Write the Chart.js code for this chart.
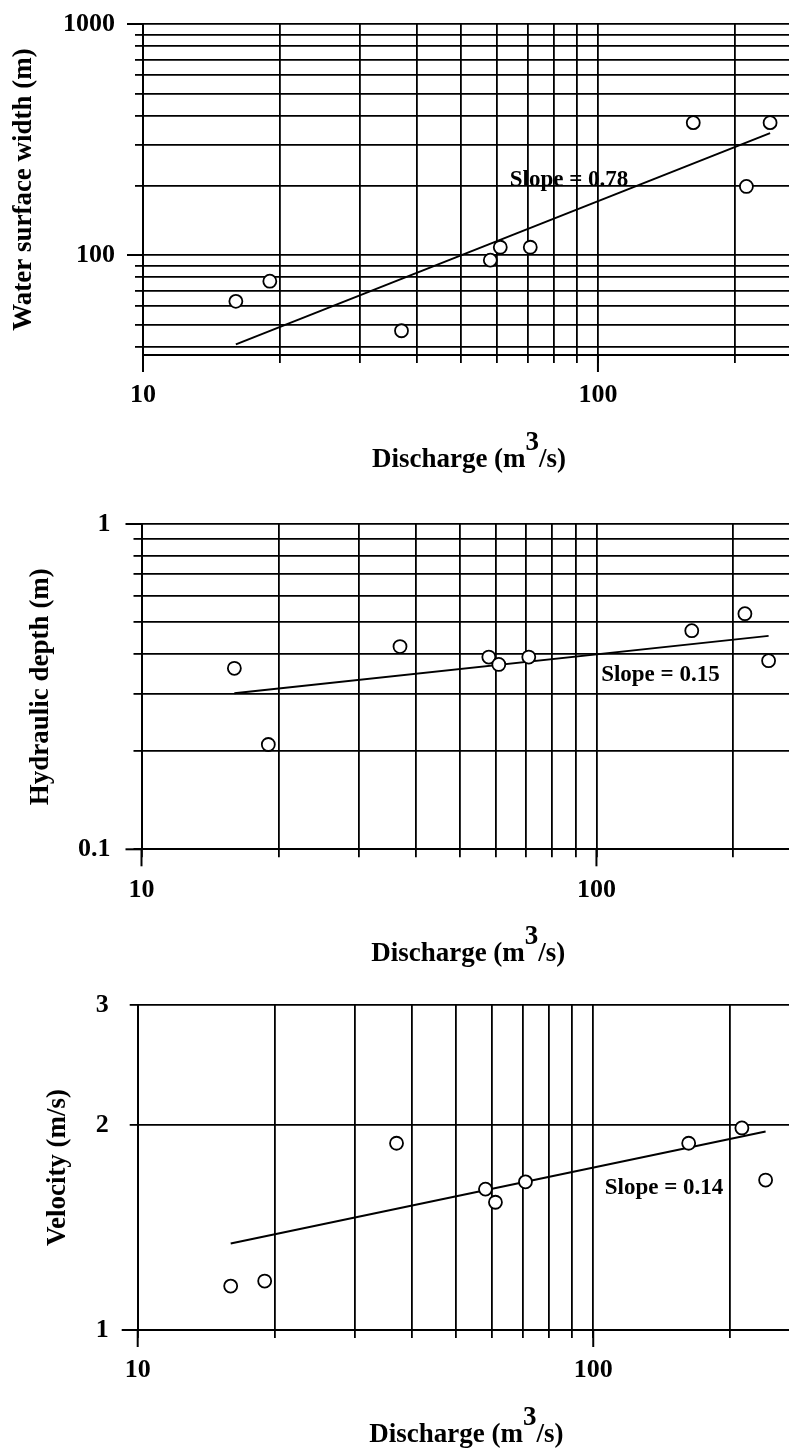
<!DOCTYPE html>
<html>
<head>
<meta charset="utf-8">
<title>Hydraulic geometry</title>
<script src="https://cdn.jsdelivr.net/npm/chart.js@4.4.1/dist/chart.umd.min.js"></script>
<style>
  html, body { margin: 0; padding: 0; background: #fff; }
  #page { position: relative; width: 789px; height: 1452px; overflow: hidden; background: #fff; }
  #page canvas { position: absolute; left: 0; }
</style>
</head>
<body>
<div id="page">
  <canvas id="widthChart" width="789" height="480" style="top:0px"></canvas>
  <canvas id="depthChart" width="789" height="490" style="top:480px"></canvas>
  <canvas id="velocityChart" width="789" height="482" style="top:970px"></canvas>
</div>
<script>
// Measured discharge and the matching channel geometry at each station
const discharge = [16, 19, 37, 58, 61, 71, 162, 212, 239];
const surfaceWidth = [63, 77, 47, 95, 108, 108, 374, 198, 374];
const hydraulicDepth = [0.36, 0.21, 0.42, 0.39, 0.37, 0.39, 0.47, 0.53, 0.38];
const velocity = [1.16, 1.18, 1.88, 1.61, 1.54, 1.65, 1.88, 1.98, 1.66];

// Power-law fit lines, given at the ends of the discharge range
const fitDischarge = [16, 239];
const widthFit = [41, 337];
const depthFit = [0.302, 0.453];
const velocityFit = [1.34, 1.956];
const slopeLabels = ['Slope = 0.78', 'Slope = 0.15', 'Slope = 0.14'];

// Log-paper grid values and the ones that carry a label
const dischargeTicks = [10, 20, 30, 40, 50, 60, 70, 80, 90, 100, 200];
const dischargeTickLabels = [10, 100];
const widthTicks = [40, 50, 60, 70, 80, 90, 100, 200, 300, 400, 500, 600, 700, 800, 900, 1000];
const widthTickLabels = [100, 1000];
const depthTicks = [0.1, 0.2, 0.3, 0.4, 0.5, 0.6, 0.7, 0.8, 0.9, 1];
const depthTickLabels = [0.1, 1];
const velocityTicks = [1, 2, 3];
const velocityTickLabels = [1, 2, 3];

const SERIF = "'Liberation Serif', 'Times New Roman', Times, serif";
Chart.defaults.font.family = SERIF;
Chart.defaults.font.weight = 'bold';
Chart.defaults.color = '#000';

// Decade ticks reach further out than the others; also writes the
// slope caption and the discharge title with its raised exponent.
function paperPlugin(cfg) {
  return {
    id: 'paper',
    afterDraw(chart) {
      const ctx = chart.ctx;
      const area = chart.chartArea;
      const xs = chart.scales.x;
      const ys = chart.scales.y;
      ctx.save();
      ctx.strokeStyle = '#000';
      ctx.lineWidth = 2;
      cfg.xDecades.forEach(v => {
        const px = xs.getPixelForValue(v);
        ctx.beginPath();
        ctx.moveTo(px, area.bottom);
        ctx.lineTo(px, area.bottom + 17);
        ctx.stroke();
      });
      cfg.yDecades.forEach(v => {
        const py = ys.getPixelForValue(v);
        ctx.beginPath();
        ctx.moveTo(area.left, py);
        ctx.lineTo(area.left - 16, py);
        ctx.stroke();
      });

      ctx.fillStyle = '#000';
      ctx.font = 'bold 23px ' + SERIF;
      ctx.textAlign = 'left';
      ctx.textBaseline = 'middle';
      ctx.fillText(cfg.caption, xs.getPixelForValue(cfg.captionAt[0]), ys.getPixelForValue(cfg.captionAt[1]));

      ctx.font = 'bold 27px ' + SERIF;
      ctx.textBaseline = 'alphabetic';
      const head = 'Discharge (m', sup = '3', tail = '/s)';
      const wHead = ctx.measureText(head).width;
      const wSup = ctx.measureText(sup).width;
      const wTail = ctx.measureText(tail).width;
      const baseline = area.bottom + 112;
      let x = (area.left + area.right) / 2 + 3 - (wHead + wSup + wTail) / 2;
      ctx.fillText(head, x, baseline);
      x += wHead;
      ctx.fillText(sup, x, baseline - 17);
      x += wSup;
      ctx.fillText(tail, x, baseline);
      ctx.restore();
    }
  };
}

function makePanel(id, p) {
  const canvas = document.getElementById(id);
  const H = canvas.height;
  const grid = { color: '#000', lineWidth: 1.8, tickLength: 8, drawTicks: true };
  new Chart(canvas, {
    type: 'scatter',
    data: {
      datasets: [
        {
          data: discharge.map((q, i) => ({ x: q, y: p.values[i] })),
          pointRadius: 6.5,
          pointHoverRadius: 6.5,
          pointBackgroundColor: '#fff',
          pointBorderColor: '#000',
          pointBorderWidth: 1.8
        },
        {
          data: fitDischarge.map((q, i) => ({ x: q, y: p.fit[i] })),
          showLine: true,
          borderColor: '#000',
          borderWidth: 2,
          pointRadius: 0,
          pointHoverRadius: 0,
          fill: false
        }
      ]
    },
    options: {
      responsive: false,
      animation: false,
      events: [],
      layout: { autoPadding: false, padding: { left: 0, right: 0, top: p.top, bottom: 0 } },
      plugins: { legend: { display: false }, tooltip: { enabled: false } },
      scales: {
        x: {
          type: 'logarithmic',
          position: 'bottom',
          min: 10,
          max: p.xMax,
          grid: grid,
          border: { display: true, color: '#000', width: 2 },
          ticks: {
            autoSkip: false,
            maxRotation: 0,
            padding: 17,
            font: { size: 26, weight: 'bold' },
            color: '#000',
            callback: v => dischargeTickLabels.includes(v) ? String(v) : ''
          },
          afterBuildTicks: s => { s.ticks = dischargeTicks.map(v => ({ value: v })); },
          afterFit: s => { s.height = H - p.bottom; s.paddingLeft = 0; s.paddingRight = 0; }
        },
        y: {
          type: 'logarithmic',
          position: 'left',
          min: p.yMin,
          max: p.yMax,
          grid: grid,
          border: { display: true, color: '#000', width: 2 },
          title: {
            display: true,
            text: p.title,
            color: '#000',
            font: { size: 27, weight: 'bold' },
            padding: { top: p.titlePad, bottom: 0 }
          },
          ticks: {
            autoSkip: false,
            padding: p.tickPad,
            font: { size: 26, weight: 'bold' },
            color: '#000',
            callback: v => p.labels.includes(v) ? String(v) : ''
          },
          afterBuildTicks: s => { s.ticks = p.ticks.map(v => ({ value: v })); },
          afterFit: s => { s.width = p.left; s.paddingTop = 0; s.paddingBottom = 0; }
        }
      }
    },
    plugins: [paperPlugin({
      xDecades: dischargeTickLabels,
      yDecades: p.decades,
      caption: p.caption,
      captionAt: p.captionAt
    })]
  });
}

makePanel('widthChart', {
  values: surfaceWidth, fit: widthFit, title: 'Water surface width (m)',
  ticks: widthTicks, labels: widthTickLabels, decades: [100, 1000],
  yMin: 36.9, yMax: 1000, xMax: 263,
  left: 143, top: 24, bottom: 355, titlePad: 7.8, tickPad: 20,
  caption: slopeLabels[0], captionAt: [64, 211]
});

makePanel('depthChart', {
  values: hydraulicDepth, fit: depthFit, title: 'Hydraulic depth (m)',
  ticks: depthTicks, labels: depthTickLabels, decades: [0.1, 1],
  yMin: 0.1, yMax: 1, xMax: 265,
  left: 141.5, top: 44, bottom: 369.3, titlePad: 24.8, tickPad: 23,
  caption: slopeLabels[1], captionAt: [102.4, 0.343]
});

makePanel('velocityChart', {
  values: velocity, fit: velocityFit, title: 'Velocity (m/s)',
  ticks: velocityTicks, labels: velocityTickLabels, decades: [1],
  yMin: 1, yMax: 3, xMax: 269,
  left: 137.7, top: 35, bottom: 360, titlePad: 41.8, tickPad: 21,
  caption: slopeLabels[2], captionAt: [106, 1.615]
});
</script>
</body>
</html>
